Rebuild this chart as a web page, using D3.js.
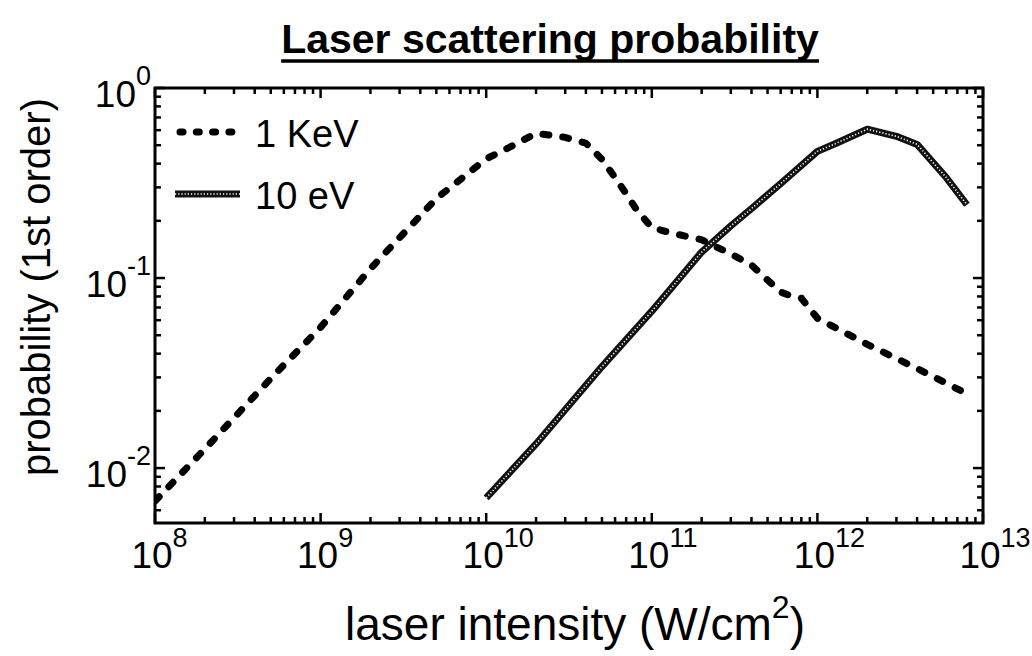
<!DOCTYPE html>
<html>
<head>
<meta charset="utf-8">
<script src="https://cdn.jsdelivr.net/npm/d3@7"></script>
<style>
  body { margin: 0; background: #fff; }
  svg { display: block; font-family: "Liberation Sans", Arial, sans-serif; }
</style>
</head>
<body>
<svg id="chart" width="1032" height="656"></svg>
<script>
// tick exponents
const xExps = [8, 9, 10, 11, 12, 13];
const yExps = [0, -1, -2];

// 1 KeV series (intensity W/cm2, probability)
const kevIntensity = [1e8, 2e8, 5e8, 1e9, 2e9, 5e9, 1e10, 1.5e10, 2e10, 3e10, 4e10, 5e10, 6e10, 7e10, 8e10, 1e11, 1.3e11, 2e11, 3e11, 4e11, 5e11, 6e11, 7e11, 8e11, 1e12, 2e12, 4e12, 8e12];
const kevProb = [0.0067, 0.0126, 0.0296, 0.055, 0.112, 0.262, 0.424, 0.505, 0.578, 0.55, 0.512, 0.421, 0.338, 0.278, 0.232, 0.184, 0.173, 0.159, 0.134, 0.117, 0.0976, 0.0843, 0.0803, 0.0783, 0.0614, 0.0448, 0.0334, 0.0246];

// 10 eV series
const evIntensity = [1e10, 2e10, 5e10, 1e11, 2e11, 3e11, 4e11, 6e11, 1e12, 1.3e12, 2e12, 3e12, 4e12, 6e12, 8e12];
const evProb = [0.00697, 0.0134, 0.0342, 0.0669, 0.137, 0.188, 0.232, 0.314, 0.464, 0.512, 0.607, 0.557, 0.505, 0.338, 0.243];

const svg = d3.select("#chart");
const pLeft = 155, pRight = 983, pTop = 88, pBottom = 523;

const x = d3.scaleLog().domain([1e8, 1e13]).range([pLeft, pRight]);
const y = d3.scaleLog().domain([0.00514, 1]).range([pBottom, pTop]);

// title
const title = svg.append("text")
  .attr("x", 550).attr("y", 53)
  .attr("text-anchor", "middle")
  .style("font-size", "41px").style("font-weight", "bold")
  .text("Laser scattering probability");
const tb = title.node().getBBox();
svg.append("line")
  .attr("x1", tb.x).attr("x2", tb.x + tb.width)
  .attr("y1", 61).attr("y2", 61)
  .attr("stroke", "#000").attr("stroke-width", 3.5);

// minor + major ticks
const xTicks = [];
xExps.forEach(e => { for (let k = 1; k <= 9; k++) { const v = k * Math.pow(10, e); if (v <= 1e13) xTicks.push({ v, major: k === 1 }); } });
const yTicks = [];
[-3, -2, -1, 0].forEach(e => { for (let k = 1; k <= 9; k++) { const v = k * Math.pow(10, e); if (v >= 0.00514 && v <= 1) yTicks.push({ v, major: k === 1 }); } });

const tickG = svg.append("g").attr("stroke", "#000").attr("stroke-width", 2.5);
xTicks.forEach(t => {
  const len = t.major ? 10 : 6;
  tickG.append("line").attr("x1", x(t.v)).attr("x2", x(t.v)).attr("y1", pBottom).attr("y2", pBottom - len);
  tickG.append("line").attr("x1", x(t.v)).attr("x2", x(t.v)).attr("y1", pTop).attr("y2", pTop + len);
});
yTicks.forEach(t => {
  const len = t.major ? 10 : 6;
  tickG.append("line").attr("y1", y(t.v)).attr("y2", y(t.v)).attr("x1", pLeft).attr("x2", pLeft + len);
  tickG.append("line").attr("y1", y(t.v)).attr("y2", y(t.v)).attr("x1", pRight).attr("x2", pRight - len);
});

// frame
svg.append("rect")
  .attr("x", pLeft).attr("y", pTop)
  .attr("width", pRight - pLeft).attr("height", pBottom - pTop)
  .attr("fill", "none").attr("stroke", "#000").attr("stroke-width", 3);

// x tick labels
xExps.forEach(e => {
  const t = svg.append("text")
    .attr("y", 568)
    .style("font-size", "37px");
  t.append("tspan").text("10");
  t.append("tspan").attr("dy", -21).style("font-size", "27px").text(e);
  // centre the "10" on the tick
  const w10 = t.select("tspan").node().getComputedTextLength();
  t.attr("x", x(Math.pow(10, e)) - w10 / 2 - 3);
});

// y tick labels
yExps.forEach(e => {
  const t = svg.append("text")
    .attr("x", 151).attr("y", y(Math.pow(10, e)) + 19)
    .attr("text-anchor", "end")
    .style("font-size", "37px");
  t.append("tspan").text("10");
  t.append("tspan").attr("dy", -22).style("font-size", "27px").text(e === 0 ? "0" : "-" + Math.abs(e));
});

// axis titles
const xl = svg.append("text")
  .attr("x", 575).attr("y", 640)
  .attr("text-anchor", "middle")
  .style("font-size", "46px");
xl.append("tspan").text("laser intensity (W/cm");
xl.append("tspan").attr("dy", -22).style("font-size", "32px").text("2");
xl.append("tspan").attr("dy", 22).text(")");

svg.append("text")
  .attr("transform", "translate(50,287) rotate(-90)")
  .attr("text-anchor", "middle")
  .style("font-size", "40px")
  .text("probability (1st order)");

// clip
svg.append("clipPath").attr("id", "clip")
  .append("rect").attr("x", pLeft).attr("y", pTop).attr("width", pRight - pLeft).attr("height", pBottom - pTop);

const line = d3.line().x(d => x(d[0])).y(d => y(d[1]));
const kevData = kevIntensity.map((v, i) => [v, kevProb[i]]);
const evData = evIntensity.map((v, i) => [v, evProb[i]]);

const plot = svg.append("g").attr("clip-path", "url(#clip)");

function drawEv(g, d) {
  g.append("path").attr("d", d).attr("fill", "none")
    .attr("stroke", "#111").attr("stroke-width", 7).attr("stroke-linejoin", "round");
  g.append("path").attr("d", d).attr("fill", "none")
    .attr("stroke", "#fff").attr("stroke-width", 1.6).attr("stroke-dasharray", "1.2,2");
}
function drawKev(g, d, dash) {
  g.append("path").attr("d", d).attr("fill", "none")
    .attr("stroke", "#000").attr("stroke-width", 7)
    .attr("stroke-linecap", "round").attr("stroke-dasharray", dash || "6,14");
}

drawEv(plot, line(evData));
drawKev(plot, line(kevData));

// legend
drawKev(svg, "M180,132L232,132", "3,13.3");
svg.append("text").attr("x", 255).attr("y", 147).style("font-size", "38px").text("1 KeV");
drawEv(svg, "M175,194L240,194");
svg.append("text").attr("x", 255).attr("y", 209).style("font-size", "38px").text("10 eV");
</script>
</body>
</html>
